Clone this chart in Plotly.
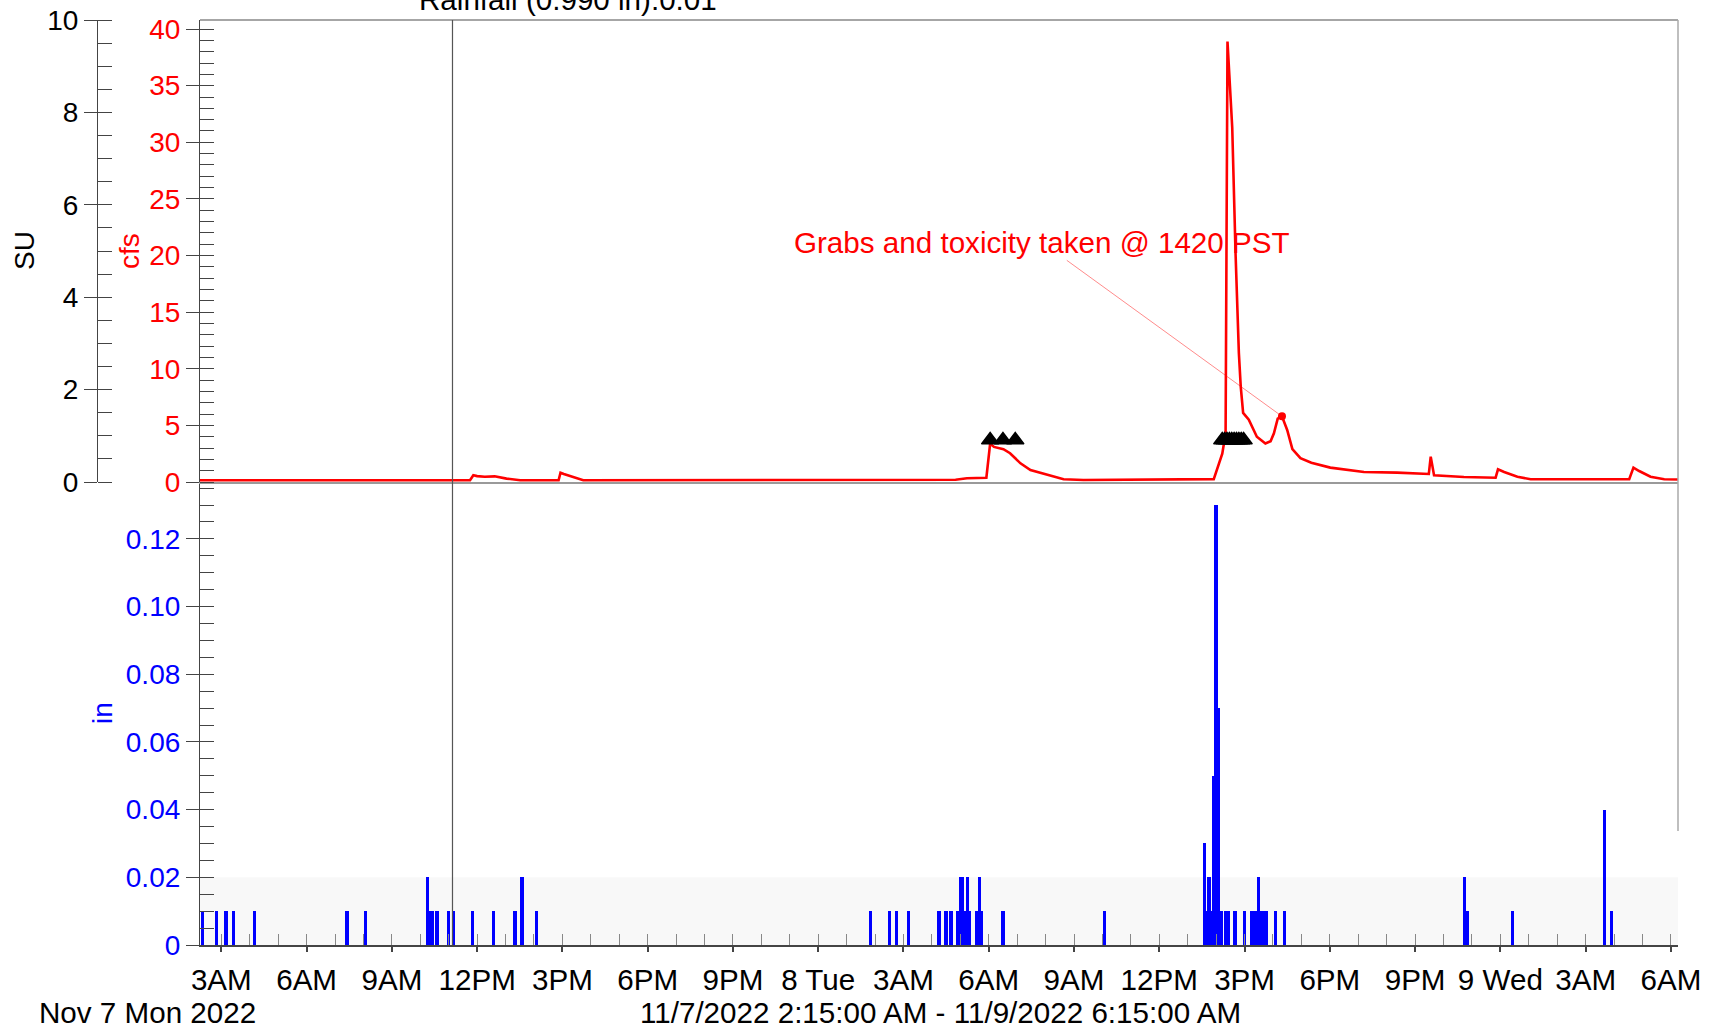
import plotly.graph_objects as go

# ---------------- data ----------------
# Flow readings (cfs)
flow_time = [
    "2022-11-07 02:15", "2022-11-07 11:45", "2022-11-07 11:52", "2022-11-07 12:00",
    "2022-11-07 12:16", "2022-11-07 12:37", "2022-11-07 13:02", "2022-11-07 13:31",
    "2022-11-07 14:52", "2022-11-07 14:56", "2022-11-07 15:03", "2022-11-07 15:23",
    "2022-11-07 15:44", "2022-11-08 04:50", "2022-11-08 05:14", "2022-11-08 05:55",
    "2022-11-08 06:03", "2022-11-08 06:11", "2022-11-08 06:31", "2022-11-08 06:45",
    "2022-11-08 07:07", "2022-11-08 07:28", "2022-11-08 08:03", "2022-11-08 08:38",
    "2022-11-08 09:20", "2022-11-08 13:30", "2022-11-08 13:55", "2022-11-08 14:13",
    "2022-11-08 14:20", "2022-11-08 14:24", "2022-11-08 14:34", "2022-11-08 14:41",
    "2022-11-08 14:48", "2022-11-08 14:52", "2022-11-08 14:57", "2022-11-08 15:09",
    "2022-11-08 15:26", "2022-11-08 15:44", "2022-11-08 15:55", "2022-11-08 16:02",
    "2022-11-08 16:10", "2022-11-08 16:19", "2022-11-08 16:30", "2022-11-08 16:41",
    "2022-11-08 16:58", "2022-11-08 17:21", "2022-11-08 18:01", "2022-11-08 19:12",
    "2022-11-08 20:22", "2022-11-08 21:29", "2022-11-08 21:33", "2022-11-08 21:40",
    "2022-11-08 22:43", "2022-11-08 23:50", "2022-11-08 23:55", "2022-11-09 00:08",
    "2022-11-09 00:36", "2022-11-09 01:04", "2022-11-09 04:32", "2022-11-09 04:41",
    "2022-11-09 04:53", "2022-11-09 05:17", "2022-11-09 05:46", "2022-11-09 06:15",
]
flow_cfs = [
    0.15, 0.15, 0.6, 0.52,
    0.47, 0.5, 0.3, 0.15,
    0.15, 0.82, 0.7, 0.4,
    0.15, 0.2, 0.33, 0.38,
    3.4, 3.1, 2.9, 2.54,
    1.65, 1.06, 0.62, 0.24,
    0.18, 0.2, 0.25, 2.5,
    4.3, 38.9, 31.3, 20.2,
    11.4, 8.4, 6.1, 5.5,
    4.0, 3.4, 3.6, 4.3,
    5.6, 5.8, 4.6, 2.9,
    2.1, 1.7, 1.27, 0.88,
    0.83, 0.71, 2.24, 0.59,
    0.44, 0.38, 1.12, 0.88,
    0.47, 0.24, 0.24, 1.27,
    0.97, 0.47, 0.24, 0.22,
]

# Rainfall increments (in)
rain_time = [
    "2022-11-07 02:20", "2022-11-07 02:50", "2022-11-07 03:10", "2022-11-07 03:25",
    "2022-11-07 04:10", "2022-11-07 07:25", "2022-11-07 08:05", "2022-11-07 10:15",
    "2022-11-07 10:20", "2022-11-07 10:25", "2022-11-07 10:35", "2022-11-07 11:00",
    "2022-11-07 11:10", "2022-11-07 11:50", "2022-11-07 12:35", "2022-11-07 13:20",
    "2022-11-07 13:35", "2022-11-07 14:05",
    "2022-11-08 01:50", "2022-11-08 02:30", "2022-11-08 02:45", "2022-11-08 03:10",
    "2022-11-08 04:15", "2022-11-08 04:30", "2022-11-08 04:40", "2022-11-08 04:55",
    "2022-11-08 05:00", "2022-11-08 05:05", "2022-11-08 05:10", "2022-11-08 05:15",
    "2022-11-08 05:20", "2022-11-08 05:35", "2022-11-08 05:40", "2022-11-08 05:45",
    "2022-11-08 06:30", "2022-11-08 10:05", "2022-11-08 13:35", "2022-11-08 13:40",
    "2022-11-08 13:45", "2022-11-08 13:50", "2022-11-08 13:55", "2022-11-08 14:00",
    "2022-11-08 14:05", "2022-11-08 14:10", "2022-11-08 14:20", "2022-11-08 14:25",
    "2022-11-08 14:40", "2022-11-08 15:00", "2022-11-08 15:15", "2022-11-08 15:20",
    "2022-11-08 15:25", "2022-11-08 15:30", "2022-11-08 15:35", "2022-11-08 15:40",
    "2022-11-08 15:45", "2022-11-08 16:05", "2022-11-08 16:25", "2022-11-08 22:45",
    "2022-11-08 22:50",
    "2022-11-09 00:25", "2022-11-09 03:40", "2022-11-09 03:55",
]
rain_in = [
    0.01, 0.01, 0.01, 0.01,
    0.01, 0.01, 0.01, 0.02,
    0.01, 0.01, 0.01, 0.01,
    0.01, 0.01, 0.01, 0.01,
    0.02, 0.01,
    0.01, 0.01, 0.01, 0.01,
    0.01, 0.01, 0.01, 0.01,
    0.02, 0.02, 0.01, 0.02,
    0.01, 0.01, 0.02, 0.01,
    0.01, 0.01, 0.03, 0.01,
    0.02, 0.01, 0.05, 0.13,
    0.07, 0.01, 0.01, 0.01,
    0.01, 0.01, 0.01, 0.01,
    0.01, 0.02, 0.01, 0.01,
    0.01, 0.01, 0.01, 0.02,
    0.01,
    0.01, 0.04, 0.01,
]

# Sampler events
sample_time = [
    "2022-11-08 06:03", "2022-11-08 06:30", "2022-11-08 06:56",
    "2022-11-08 14:13", "2022-11-08 14:18", "2022-11-08 14:23", "2022-11-08 14:28",
    "2022-11-08 14:33", "2022-11-08 14:38", "2022-11-08 14:43", "2022-11-08 14:48",
    "2022-11-08 14:53", "2022-11-08 14:58",
]
sample_level = 3.7

note_time = "2022-11-08 16:19"
note_text = "Grabs and toxicity taken @ 1420 PST"
cursor_time = "2022-11-07 11:08"
cursor_text = "Rainfall (0.990 in):0.01"

t_start, t_end = "2022-11-07 02:15", "2022-11-09 06:15"

x_ticks = [
    "2022-11-07 03:00", "2022-11-07 06:00", "2022-11-07 09:00", "2022-11-07 12:00",
    "2022-11-07 15:00", "2022-11-07 18:00", "2022-11-07 21:00", "2022-11-08 00:00",
    "2022-11-08 03:00", "2022-11-08 06:00", "2022-11-08 09:00", "2022-11-08 12:00",
    "2022-11-08 15:00", "2022-11-08 18:00", "2022-11-08 21:00", "2022-11-09 00:00",
    "2022-11-09 03:00", "2022-11-09 06:00",
]
x_labels = [
    "3AM", "6AM", "9AM", "12PM", "3PM", "6PM", "9PM", "8 Tue",
    "3AM", "6AM", "9AM", "12PM", "3PM", "6PM", "9PM", "9 Wed",
    "3AM", "6AM",
]
in_ticks = [0, 0.02, 0.04, 0.06, 0.08, 0.10, 0.12]
in_labels = ["0", "0.02", "0.04", "0.06", "0.08", "0.10", "0.12"]

# ---------------- layout helpers ----------------
W, H = 1713, 1030
ML, MR, MT, MB = 20, 35, 20, 85
PW, PH = W - ML - MR, H - MT - MB


def fx(px):
    return (px - ML) / PW


def fy(py):
    return (H - MB - py) / PH


FONT = "Arial, 'Liberation Sans', sans-serif"
FS = 28      # y tick labels
FS2 = 29.6   # x tick labels and free text
AX = "#444444"
x_left = fx(200)
y_split = fy(482)
in_range = [0, 0.1368]
cfs_range = [0, 40.8]
su_range = [0, 10]
su_pos = fx(97)

fig = go.Figure()

fig.add_trace(go.Bar(
    x=rain_time, y=rain_in, xaxis="x", yaxis="y",
    width=7 * 60 * 1000, marker=dict(color="#0000ff", line=dict(width=0)),
    showlegend=False, hoverinfo="x+y",
))
fig.add_trace(go.Scatter(
    x=flow_time, y=flow_cfs, xaxis="x2", yaxis="y2", mode="lines",
    line=dict(color="#ff0000", width=2.6), showlegend=False,
))
fig.add_trace(go.Scatter(
    x=sample_time, y=[sample_level] * len(sample_time), xaxis="x2", yaxis="y2",
    mode="markers", marker=dict(symbol="triangle-up", size=15, color="black",
                                line=dict(color="black", width=1.5)),
    showlegend=False,
))
note_val = flow_cfs[flow_time.index(note_time)]
fig.add_trace(go.Scatter(
    x=[note_time], y=[note_val], xaxis="x2", yaxis="y2", mode="markers",
    marker=dict(color="#ff0000", size=8), showlegend=False,
))
# empty traces so that the SU scale and the tick-only overlay scales get drawn
for xa, ya in (("x2", "y3"), ("x2", "y4"), ("x", "y5"), ("x2", "y6")):
    fig.add_trace(go.Scatter(x=[], y=[], xaxis=xa, yaxis=ya, showlegend=False))


def tick_axis(**kw):
    base = dict(ticks="outside", ticklen=13, tickwidth=1.2, tickcolor=AX,
                showline=True, linecolor=AX, linewidth=1.2,
                showgrid=False, zeroline=False, automargin=False)
    base.update(kw)
    return base


def inner_ticks(**kw):
    # inner half of the major ticks, so they cross the axis line
    base = dict(ticks="inside", ticklen=13, tickwidth=1.2, tickcolor=AX,
                showticklabels=False, showline=False, showgrid=False,
                zeroline=False, automargin=False)
    base.update(kw)
    return base


fig.update_layout(
    width=W, height=H,
    margin=dict(l=ML, r=MR, t=MT, b=MB, autoexpand=False),
    paper_bgcolor="white", plot_bgcolor="white",
    font=dict(family=FONT, size=FS, color="black"),
    bargap=0,
    xaxis=dict(
        domain=[x_left, 1], anchor="y", type="date", range=[t_start, t_end],
        tickmode="array", tickvals=x_ticks, ticktext=x_labels,
        ticks="outside", ticklen=5, tickwidth=1.5, tickcolor=AX,
        minor=dict(ticks="inside", ticklen=11, tickcolor="#888888",
                   tick0="2022-11-07 00:00", dtick=3600000, tickwidth=1.2),
        showline=True, linecolor=AX, linewidth=1.5,
        showgrid=False, zeroline=False, automargin=False,
        tickfont=dict(family=FONT, size=FS2, color="black"),
        ticklabelstandoff=3,
    ),
    xaxis2=dict(
        domain=[x_left, 1], anchor="y2", type="date", matches="x",
        showticklabels=False, ticks="", showline=True, linecolor="#9a9a9a",
        linewidth=1.5, showgrid=False, zeroline=False, automargin=False,
    ),
    yaxis=tick_axis(
        domain=[0, y_split], anchor="x", range=in_range,
        tickmode="array", tickvals=in_ticks, ticktext=in_labels,
        minor=dict(ticks="inside", ticklen=14, dtick=0.005, tick0=0,
                   tickcolor=AX, tickwidth=1.2),
        tickfont=dict(family=FONT, size=FS, color="#0000ff"),
    ),
    yaxis2=tick_axis(
        domain=[y_split, 1], anchor="x2", range=cfs_range, tick0=0, dtick=5,
        minor=dict(ticks="inside", ticklen=14, dtick=1, tick0=0,
                   tickcolor=AX, tickwidth=1.2),
        tickfont=dict(family=FONT, size=FS, color="#ff0000"),
    ),
    yaxis3=tick_axis(
        overlaying="y2", anchor="free", position=su_pos, side="left",
        range=su_range, tick0=0, dtick=2,
        minor=dict(ticks="inside", ticklen=14, dtick=0.5, tick0=0,
                   tickcolor=AX, tickwidth=1.2),
        tickfont=dict(family=FONT, size=FS, color="black"),
    ),
    yaxis4=inner_ticks(overlaying="y2", anchor="x2", range=cfs_range,
                       tick0=0, dtick=5),
    yaxis5=inner_ticks(overlaying="y", anchor="x", range=in_range,
                       tickmode="array", tickvals=in_ticks),
    yaxis6=inner_ticks(overlaying="y2", anchor="free", position=su_pos,
                       side="left", range=su_range, tick0=0, dtick=2),
)

fig.update_layout(shapes=[
    # light band for the lowest rainfall range
    dict(type="rect", xref="paper", x0=x_left, x1=1, yref="y", y0=0, y1=0.02,
         fillcolor="#f8f8f8", line=dict(width=0), layer="below"),
    # frame: top edge and right edge
    dict(type="line", xref="paper", x0=x_left, x1=1, yref="paper", y0=1, y1=1,
         line=dict(color="#888888", width=1.5)),
    dict(type="line", xref="paper", x0=1, x1=1, yref="paper", y0=fy(831), y1=1,
         line=dict(color="#aaaaaa", width=1.5)),
    # cursor
    dict(type="line", xref="x", x0=cursor_time, x1=cursor_time, yref="paper",
         y0=0, y1=1, line=dict(color="#555555", width=1.2)),
])

fig.update_layout(annotations=[
    dict(text=cursor_text, xref="paper", yref="paper", x=fx(568), y=fy(-1),
         xanchor="center", yanchor="middle", showarrow=False,
         font=dict(family=FONT, size=FS2, color="black")),
    dict(text="SU", xref="paper", yref="paper", x=fx(24), y=fy(251),
         textangle=-90, showarrow=False, xanchor="center", yanchor="middle",
         font=dict(family=FONT, size=FS, color="black")),
    dict(text="cfs", xref="paper", yref="paper", x=fx(129), y=fy(251),
         textangle=-90, showarrow=False, xanchor="center", yanchor="middle",
         font=dict(family=FONT, size=FS, color="#ff0000")),
    dict(text="in", xref="paper", yref="paper", x=fx(102), y=fy(713),
         textangle=-90, showarrow=False, xanchor="center", yanchor="middle",
         font=dict(family=FONT, size=FS, color="#0000ff")),
    dict(text="Nov 7 Mon 2022", xref="paper", yref="paper", x=fx(147), y=fy(1013),
         showarrow=False, xanchor="center", yanchor="middle",
         font=dict(family=FONT, size=FS2, color="black")),
    dict(text="11/7/2022 2:15:00 AM - 11/9/2022 6:15:00 AM", xref="paper",
         yref="paper", x=fx(940), y=fy(1013), showarrow=False,
         xanchor="center", yanchor="middle",
         font=dict(family=FONT, size=FS2, color="black")),
    dict(text=note_text, xref="x2", yref="y2", x=note_time, y=note_val,
         ax=-240, ay=-174, showarrow=True, arrowhead=0, arrowwidth=1,
         arrowcolor="rgba(255,0,0,0.45)",
         font=dict(family=FONT, size=FS2, color="#ff0000")),
])

fig.write_html("out.html")
